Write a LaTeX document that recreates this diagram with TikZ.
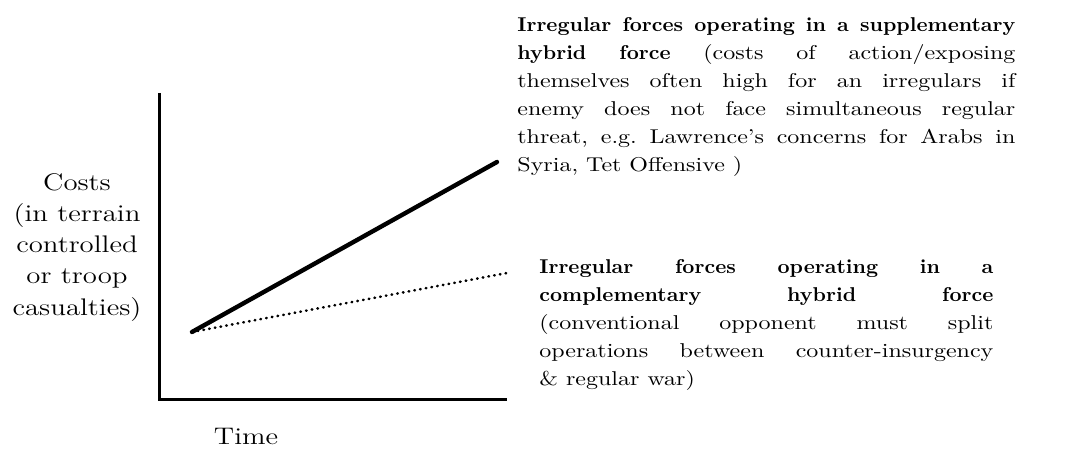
\documentclass[tikz,border=0pt]{standalone}
\usepackage{fontspec}
\setmainfont{Latin Modern Roman}[FakeStretch=1.2, BoldFeatures={FakeStretch=1.05}]
\usepackage{tikz}
\usetikzlibrary{positioning}

\tikzset{
	axis/.style={line width=1.5pt},
	supline/.style={line width=2.2pt, line cap=round},
	compline/.style={line width=1.3pt, line cap=round, dash pattern=on 0.3pt off 2.6pt},
	notetext/.style={inner sep=0pt, anchor=north west, align=justify,
		font=\fontsize{10}{14}\selectfont,
		execute at begin node={\hyphenpenalty=10000\frenchspacing\relax}},
	ylabel/.style={inner sep=0pt, anchor=north, align=center,
		font=\fontsize{12}{15.6}\selectfont},
}

\begin{document}
\begin{tikzpicture}[x=0.5pt,y=-0.5pt]
\tikzstyle{every node}=[font=\fontsize{12}{15.6}\selectfont]

	\useasboundingbox (0,0) rectangle (1066,453);

	\coordinate (origin) at (159,400);
	\coordinate (ytop) at (159,93);
	\coordinate (xend) at (507,400);
	\coordinate (start) at (192,332);
	\coordinate (supend) at (497,162);
	\coordinate (compend) at (507,273);

	\draw[axis] (ytop) -- (origin) -- (xend);
	\draw[supline] (start) -- (supend);
	\draw[compline] (start) -- (compend);

	\node[ylabel] (costs) at (77,173) {Costs\\(in terrain\\controlled\\or troop\\casualties)};
	\node[anchor=base, inner sep=0pt] (time) at (246,445) {Time};

	\node[notetext, text width=249pt] (supnote) at (517,17)
		{\textbf{Irregular forces operating in a supplementary\linebreak
		hybrid force} (costs of action/exposing\linebreak
		themselves often high for an irregulars if\linebreak
		enemy does not face simultaneous regular\linebreak
		threat, e.g. Lawrence's concerns for Arabs in\linebreak
		Syria, Tet Offensive )};
	\node[notetext, text width=227pt] (compnote) at (539,259)
		{\textbf{Irregular forces operating in a\linebreak
		complementary hybrid force}\linebreak
		(conventional opponent must split\linebreak
		operations between counter-insurgency\linebreak
		\& regular war)};
\end{tikzpicture}
\end{document}
